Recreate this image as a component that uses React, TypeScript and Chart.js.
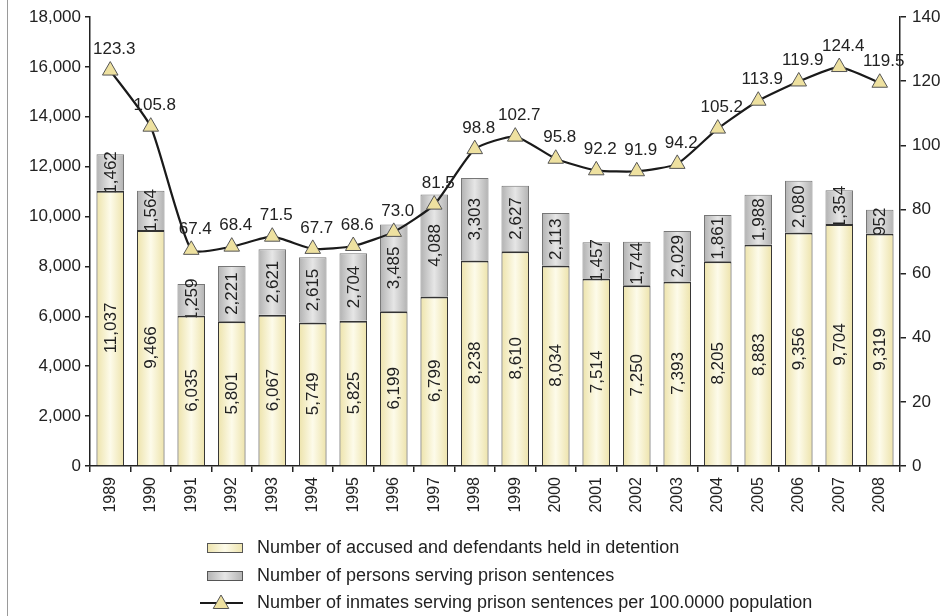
import { useEffect, useRef } from "react";
import { Chart, registerables } from "chart.js";

Chart.register(...registerables);

const years = ["1989", "1990", "1991", "1992", "1993", "1994", "1995", "1996", "1997", "1998", "1999", "2000", "2001", "2002", "2003", "2004", "2005", "2006", "2007", "2008"];
const detained = [11037, 9466, 6035, 5801, 6067, 5749, 5825, 6199, 6799, 8238, 8610, 8034, 7514, 7250, 7393, 8205, 8883, 9356, 9704, 9319];
const sentenced = [1462, 1564, 1259, 2221, 2621, 2615, 2704, 3485, 4088, 3303, 2627, 2113, 1457, 1744, 2029, 1861, 1988, 2080, 1354, 952];
const ratePer100k = [123.3, 105.8, 67.4, 68.4, 71.5, 67.7, 68.6, 73.0, 81.5, 98.8, 102.7, 95.8, 92.2, 91.9, 94.2, 105.2, 113.9, 119.9, 124.4, 119.5];

const legendLabels = [
  "Number of accused and defendants held in detention",
  "Number of persons serving prison sentences",
  "Number of inmates serving prison sentences per 100.0000 population",
];

const FONT = "'Liberation Sans', Arial, Helvetica, sans-serif";
const TEXT = "#222222";
const YELLOW_EDGE = "#ede3ab";
const YELLOW_MID = "#fdfbea";
const GRAY_EDGE = "#b2b2b2";
const GRAY_MID = "#e6e6e6";
const TRI_FILL = "#eee1a0";

function fmt(n: number) {
  return n.toLocaleString("en-US");
}

function hGrad(ctx: CanvasRenderingContext2D, x0: number, x1: number, edge: string, mid: string) {
  const g = ctx.createLinearGradient(x0, 0, x1, 0);
  g.addColorStop(0, edge);
  g.addColorStop(0.5, mid);
  g.addColorStop(1, edge);
  return g;
}

const gradientPlugin = {
  id: "barGradient",
  beforeDatasetsDraw(chart: any) {
    const ctx = chart.ctx;
    [1, 2].forEach((di) => {
      const meta = chart.getDatasetMeta(di);
      meta.data.forEach((el: any) => {
        const { x, width } = el.getProps(["x", "width"], true);
        const g = di === 1
          ? hGrad(ctx, x - width / 2, x + width / 2, YELLOW_EDGE, YELLOW_MID)
          : hGrad(ctx, x - width / 2, x + width / 2, GRAY_EDGE, GRAY_MID);
        el.options.backgroundColor = g;
      });
    });
  },
  afterDatasetDraw(chart: any, args: any) {
    const di = args.index;
    if (di !== 1 && di !== 2) return;
    const ctx = chart.ctx;
    const values = di === 1 ? detained : sentenced;
    ctx.save();
    ctx.font = `17px ${FONT}`;
    ctx.fillStyle = TEXT;
    ctx.textAlign = "center";
    ctx.textBaseline = "middle";
    chart.getDatasetMeta(di).data.forEach((el: any, i: number) => {
      const { x, y, base } = el.getProps(["x", "y", "base"], true);
      ctx.save();
      ctx.translate(x, (y + base) / 2);
      ctx.rotate(-Math.PI / 2);
      ctx.fillText(fmt(values[i]), 0, 1);
      ctx.restore();
    });
    ctx.restore();
  },
  afterDatasetsDraw(chart: any) {
    const ctx = chart.ctx;
    ctx.save();
    ctx.font = `17px ${FONT}`;
    ctx.fillStyle = TEXT;
    ctx.textAlign = "center";
    ctx.textBaseline = "middle";
    chart.getDatasetMeta(0).data.forEach((pt: any, i: number) => {
      ctx.fillText(ratePer100k[i].toFixed(1), pt.x + 4, pt.y - 21);
    });
    ctx.restore();
  },
  afterDraw(chart: any) {
    const ctx = chart.ctx;
    ctx.save();
    // left frame line
    ctx.strokeStyle = "#9a9a9a";
    ctx.lineWidth = 1;
    ctx.beginPath();
    ctx.moveTo(7.5, 0);
    ctx.lineTo(7.5, chart.height);
    ctx.stroke();

    // legend
    const sx0 = 207, sx1 = 243, tx = 257;
    const rows = [548, 576, 603];
    ctx.fillStyle = "#555";
    ctx.fillRect(sx0, rows[0] - 5, sx1 - sx0, 10);
    ctx.fillStyle = hGrad(ctx, sx0, sx1, YELLOW_EDGE, YELLOW_MID);
    ctx.fillRect(sx0 + 1, rows[0] - 4, sx1 - sx0 - 2, 8);
    ctx.fillStyle = "#555";
    ctx.fillRect(sx0, rows[1] - 5, sx1 - sx0, 10);
    ctx.fillStyle = hGrad(ctx, sx0, sx1, GRAY_EDGE, GRAY_MID);
    ctx.fillRect(sx0 + 1, rows[1] - 4, sx1 - sx0 - 2, 8);
    ctx.strokeStyle = "#1a1a1a";
    ctx.lineWidth = 2;
    ctx.beginPath();
    ctx.moveTo(200, rows[2]);
    ctx.lineTo(243, rows[2]);
    ctx.stroke();
    const r = 9, cx = 221, cy = rows[2] + 1;
    ctx.beginPath();
    ctx.moveTo(cx, cy - r);
    ctx.lineTo(cx + Math.sin((2 * Math.PI) / 3) * r, cy - Math.cos((2 * Math.PI) / 3) * r);
    ctx.lineTo(cx + Math.sin((4 * Math.PI) / 3) * r, cy - Math.cos((4 * Math.PI) / 3) * r);
    ctx.closePath();
    ctx.fillStyle = TRI_FILL;
    ctx.fill();
    ctx.strokeStyle = "#555";
    ctx.lineWidth = 1;
    ctx.stroke();

    ctx.font = `18px ${FONT}`;
    ctx.fillStyle = TEXT;
    ctx.textAlign = "left";
    ctx.textBaseline = "middle";
    legendLabels.forEach((t, i) => ctx.fillText(t, tx, rows[i]));
    ctx.restore();
  },
};

export default function App() {
  const ref = useRef<HTMLCanvasElement | null>(null);

  useEffect(() => {
    document.body.style.margin = "0";
    const canvas = ref.current;
    if (!canvas) return;
    const yFont = { family: FONT, size: 17 };
    const xFont = { family: FONT, size: 16 };
    const chart = new Chart(canvas, {
      type: "bar",
      data: {
        labels: years,
        datasets: [
          {
            type: "line",
            label: legendLabels[2],
            data: ratePer100k,
            yAxisID: "y1",
            borderColor: "#1a1a1a",
            borderWidth: 2.2,
            tension: 0.18,
            pointStyle: "triangle",
            pointRadius: 9,
            pointBackgroundColor: TRI_FILL,
            pointBorderColor: "#555",
            pointBorderWidth: 1,
            order: 0,
          } as any,
          {
            type: "bar",
            label: legendLabels[0],
            data: detained,
            yAxisID: "y",
            stack: "s",
            backgroundColor: () => YELLOW_EDGE,
            borderColor: "#333",
            borderWidth: { top: 2, left: 1, right: 1, bottom: 0 },
            borderSkipped: false,
            categoryPercentage: 1,
            barPercentage: 0.68,
            order: 1,
          } as any,
          {
            type: "bar",
            label: legendLabels[1],
            data: sentenced,
            yAxisID: "y",
            stack: "s",
            backgroundColor: () => GRAY_EDGE,
            borderColor: "#777",
            borderWidth: { top: 1, left: 1, right: 1, bottom: 0 },
            borderSkipped: false,
            categoryPercentage: 1,
            barPercentage: 0.68,
            order: 2,
          } as any,
        ],
      },
      options: {
        responsive: false,
        maintainAspectRatio: false,
        animation: false,
        layout: { padding: { top: 17, left: 0, right: 0, bottom: 0 } },
        plugins: {
          legend: { display: false },
          tooltip: { enabled: false },
        },
        scales: {
          x: {
            stacked: true,
            offset: true,
            grid: { offset: true, drawOnChartArea: false, drawTicks: true, tickLength: 6, color: TEXT, lineWidth: 1.5 },
            border: { display: true, color: TEXT, width: 1.5 },
            ticks: { font: xFont, color: TEXT, minRotation: 90, maxRotation: 90, padding: 5, autoSkip: false },
            afterFit: (s: any) => { s.height = 150; },
          },
          y: {
            stacked: true,
            position: "left",
            min: 0,
            max: 18000,
            ticks: { stepSize: 2000, font: yFont, color: TEXT, padding: 4, callback: (v: any) => fmt(Number(v)) },
            grid: { drawOnChartArea: false, drawTicks: true, tickLength: 5, color: TEXT, lineWidth: 1.5 },
            border: { display: true, color: TEXT, width: 1.5 },
            afterFit: (s: any) => { s.width = 90; },
          },
          y1: {
            position: "right",
            min: 0,
            max: 140,
            ticks: { stepSize: 20, font: yFont, color: TEXT, padding: 6 },
            grid: { drawOnChartArea: false, drawTicks: true, tickLength: 6, color: TEXT, lineWidth: 1.5 },
            border: { display: true, color: TEXT, width: 1.5 },
            afterFit: (s: any) => { s.width = 41; },
          },
        },
      },
      plugins: [gradientPlugin],
    });
    return () => chart.destroy();
  }, []);

  return (
    <div style={{ position: "absolute", left: 0, top: 0, width: 941, height: 616, background: "#fff" }}>
      <canvas ref={ref} width={941} height={616} style={{ display: "block", width: 941, height: 616 }} />
    </div>
  );
}
